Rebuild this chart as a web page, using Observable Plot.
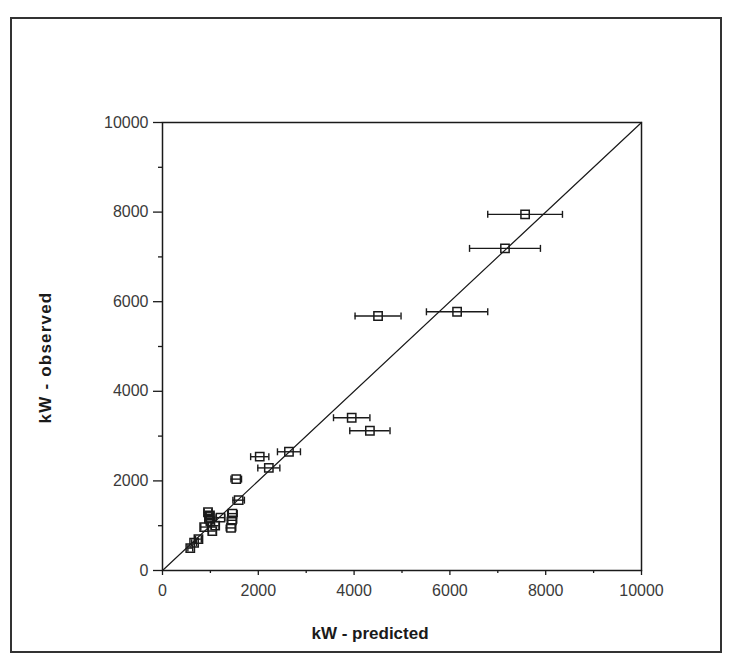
<!DOCTYPE html>
<html><head><meta charset="utf-8">
<script src="https://cdn.jsdelivr.net/npm/d3@7"></script>
<script src="https://cdn.jsdelivr.net/npm/@observablehq/plot@0.6"></script>
<style>
body{margin:0;background:#fff;}
#wrap{position:relative;width:734px;height:665px;}
#border{position:absolute;left:10px;top:17px;width:712px;height:636px;border:2px solid #333;box-sizing:border-box;pointer-events:none;}
svg{display:block;}
</style></head><body><div id="wrap"><div id="border"></div></div>
<script>
// kW - predicted (x), kW - observed (y), half-width of horizontal error bar
const predicted = [7570, 7150, 6150, 4500, 3950, 4330, 2640, 2030, 2220, 1540, 1590,
                   950, 990, 970, 1210, 1460, 1450, 870, 1040, 1430, 1000, 750, 660, 580, 1100];
const observed  = [7950, 7190, 5775, 5680, 3410, 3120, 2650, 2540, 2290, 2040, 1570,
                   1300, 1230, 1160, 1180, 1270, 1120, 970, 880, 950, 1100, 700, 620, 500, 1000];
const errors    = [780, 740, 640, 480, 380, 420, 240, 190, 230, 110, 120,
                   80, 80, 80, 90, 100, 100, 70, 80, 100, 80, 60, 50, 50, 80];
const majorTicks = [0, 2000, 4000, 6000, 8000, 10000];
const minorTicks = [1000, 3000, 5000, 7000, 9000];
const identityLine = [0, 10000];
const xTitle = "kW - predicted";
const yTitle = "kW - observed";

const data = predicted.map((x, i) => ({x, y: observed[i], e: errors[i]}));
const capSymbol = {draw(ctx, size) { const r = Math.sqrt(size / Math.PI); ctx.moveTo(0, -r); ctx.lineTo(0, r); }};
const ink = "#1a1a1a";

const chart = Plot.plot({
  width: 734, height: 665,
  marginLeft: 162, marginRight: 93, marginTop: 122, marginBottom: 95,
  style: {fontFamily: "'Liberation Sans', Arial, sans-serif", fontSize: "16px", color: "#3a3a3a", background: "transparent"},
  x: {domain: [0, 10000]},
  y: {domain: [0, 10000]},
  marks: [
    Plot.frame({stroke: ink, strokeWidth: 1.5}),
    Plot.axisX({ticks: majorTicks, tickSize: 5, tickPadding: 9, tickFormat: d => String(d), label: null, stroke: ink, strokeWidth: 1.3}),
    Plot.axisX({ticks: minorTicks, tickSize: 3, tickFormat: () => "", label: null, stroke: ink, strokeWidth: 1.3}),
    Plot.axisY({ticks: majorTicks, tickSize: 9, tickPadding: 5, tickFormat: d => String(d), label: null, stroke: ink, strokeWidth: 1.3}),
    Plot.axisY({ticks: minorTicks, tickSize: 4, tickFormat: () => "", label: null, stroke: ink, strokeWidth: 1.3}),
    Plot.line(identityLine, {x: d => d, y: d => d, stroke: ink, strokeWidth: 1.2}),
    Plot.ruleY(data, {y: "y", x1: d => d.x - d.e, x2: d => d.x + d.e, stroke: ink, strokeWidth: 1.4}),
    Plot.dot(data, {x: d => d.x - d.e, y: "y", symbol: capSymbol, r: 3.5, stroke: ink, strokeWidth: 1.4, fill: "none"}),
    Plot.dot(data, {x: d => d.x + d.e, y: "y", symbol: capSymbol, r: 3.5, stroke: ink, strokeWidth: 1.4, fill: "none"}),
    Plot.dot(data, {x: "x", y: "y", symbol: "square", r: 4.7, stroke: ink, strokeWidth: 1.5, fill: "none"}),
    Plot.text([xTitle], {text: d => d, frameAnchor: "bottom", dx: -32, dy: 63, lineAnchor: "middle", fontWeight: "bold", fontSize: 17, fill: "#1a1a1a"}),
    Plot.text([yTitle], {text: d => d, frameAnchor: "left", rotate: -90, dx: -117, dy: 11, lineAnchor: "middle", textAnchor: "middle", fontWeight: "bold", fontSize: 17, fill: "#1a1a1a"})
  ]
});
document.getElementById("wrap").prepend(chart);
// slight letter spacing on the rotated y title to match the original
chart.querySelectorAll("text").forEach(t => { if (t.textContent === yTitle) t.setAttribute("letter-spacing", "1.2"); });
</script>
</body></html>
